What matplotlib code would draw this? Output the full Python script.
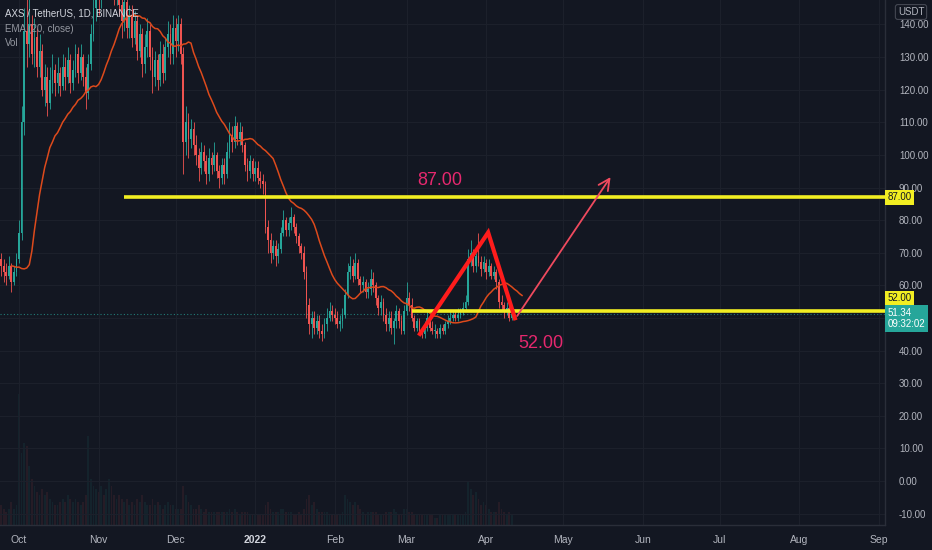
import matplotlib
matplotlib.use("Agg")
import matplotlib.pyplot as plt
import matplotlib.dates as mdates
import matplotlib.transforms as mtransforms
import pandas as pd

plt.rcParams["font.family"] = ["Liberation Sans", "DejaVu Sans"]

# daily candles AXS/USDT, 2021-09-24 .. 2022-04-11
first_date = "2021-09-24"
first_open = 68
closes = [
    66, 64, 63, 66, 61, 64, 68,  # Sep
    76, 110, 138, 134, 140, 131, 136, 127, 132, 120, 124, 116, 123, 126, 122, 125,
    121, 127, 124, 129, 122, 126, 131, 125, 130, 124, 119, 128, 137, 145, 150,  # Oct
    148, 155, 152, 158, 162, 156, 150, 153, 146, 141, 147, 139, 143, 136, 141, 132,
    137, 128, 133, 138, 130, 124, 129, 123, 131, 125, 133, 137, 131, 139,  # Nov
    135, 140, 131, 104, 110, 105, 108, 103, 100, 96, 101, 98, 94, 99, 97, 100,
    95, 93, 97, 94, 101, 106, 104, 109, 105, 107, 103, 97, 95, 98, 94,  # Dec
    96, 93, 92, 91, 78, 74, 70, 72, 69, 71, 76, 80, 77, 79, 81, 78,
    75, 72, 70, 64, 54, 48, 50, 47, 49, 46, 45, 48, 50, 52, 51,  # Jan
    50, 48, 49, 51, 57, 64, 66, 63, 67, 62, 60, 61, 58, 59, 62, 60,
    56, 53, 55, 51, 48, 50, 47, 49, 52, 49, 46, 52,  # Feb
    56, 54, 50, 47, 49, 46, 45, 47, 50, 47, 46, 46, 45, 47, 46, 48,
    49, 50, 51, 50, 51, 52, 53, 55, 68, 70, 66, 69, 67, 65, 67,  # Mar
    64, 66, 63, 64, 61, 55, 54, 52, 53, 50, 51.34,  # Apr
]
highs = [
    70, 68, 67, 69, 67, 66, 70,
    80, 115, 145, 152, 148, 143, 142, 139, 137, 134, 128, 127, 127, 131, 128, 130,
    127, 131, 130, 133, 131, 129, 134, 133, 134, 131, 127, 131, 140, 150, 155,
    156, 159, 160, 162, 166, 165, 160, 157, 155, 149, 150, 149, 146, 146, 144, 143,
    140, 139, 137, 142, 140, 133, 132, 131, 135, 134, 136, 141, 140, 143,
    142, 143, 142, 133, 115, 113, 111, 110, 106, 102, 104, 103, 100, 102, 101, 104,
    101, 97, 99, 99, 104, 110, 109, 112, 110, 110, 109, 104, 99, 100, 99,
    98, 98, 95, 94, 92, 80, 76, 74, 74, 73, 78, 83, 81, 81, 84, 82,
    79, 76, 73, 72, 66, 56, 52, 52, 51, 51, 48, 50, 53, 55, 54,
    53, 52, 51, 53, 59, 67, 69, 68, 70, 68, 63, 63, 62, 61, 65, 64,
    61, 57, 57, 56, 53, 52, 52, 50, 54, 53, 51, 54,
    61, 58, 56, 51, 50, 50, 47, 49, 52, 51, 49, 48, 47, 48, 48, 49,
    51, 52, 52, 52, 53, 53, 55, 57, 71, 74, 71, 70, 76, 69, 69,
    68, 68, 67, 66, 65, 62, 57, 55, 55, 54, 53,
]
lows = [
    63, 61, 60, 62, 58, 60, 63,
    67, 74, 106, 127, 130, 128, 127, 124, 124, 118, 115, 112, 114, 119, 118, 119,
    118, 120, 120, 122, 119, 120, 124, 122, 123, 121, 114, 117, 126, 135, 141,
    143, 145, 148, 149, 155, 152, 146, 146, 143, 136, 138, 136, 136, 133, 134, 129,
    130, 124, 125, 130, 126, 119, 121, 120, 121, 122, 123, 130, 128, 128,
    130, 132, 128, 94, 100, 99, 102, 100, 97, 92, 94, 95, 91, 92, 94, 95,
    93, 90, 91, 91, 93, 99, 101, 102, 103, 103, 101, 95, 92, 93, 92,
    92, 91, 90, 88, 76, 70, 67, 68, 66, 67, 70, 75, 75, 75, 77, 76,
    73, 70, 68, 62, 50, 45, 44, 45, 45, 44, 43, 44, 46, 49, 49,
    48, 47, 46, 47, 50, 56, 62, 61, 62, 60, 58, 58, 56, 56, 57, 58,
    54, 51, 51, 49, 46, 46, 45, 42, 47, 47, 45, 45,
    51, 52, 49, 46, 46, 45, 44, 44, 46, 46, 45, 44, 44, 44, 45, 45,
    47, 48, 49, 49, 49, 50, 51, 52, 54, 66, 64, 64, 66, 63, 64,
    62, 63, 62, 62, 59, 53, 52, 50, 51, 49, 49.5,
]
volumes = [
    6, 5, 4, 5, 7, 5, 6,
    40, 22, 25, 24, 18, 14, 12, 10, 9, 11, 9, 10, 8, 7, 6, 6,
    7, 8, 7, 9, 8, 7, 8, 7, 6, 7, 9, 27, 14, 12, 11,
    10, 12, 9, 11, 14, 12, 9, 8, 9, 8, 7, 8, 6, 7, 6, 8,
    7, 9, 7, 6, 6, 8, 6, 7, 6, 5, 6, 7, 6, 6,
    5, 5, 5, 12, 9, 7, 6, 5, 5, 6, 5, 4, 5, 4, 4, 4,
    4, 4, 4, 4, 4, 5, 4, 5, 4, 3, 4, 4, 4, 3, 3,
    3, 3, 3, 3, 6, 7, 5, 4, 4, 4, 5, 5, 4, 4, 4, 3,
    3, 4, 3, 5, 8, 9, 6, 7, 5, 4, 4, 4, 4, 3, 3,
    3, 3, 3, 4, 9, 8, 7, 6, 7, 6, 5, 4, 3, 4, 4, 4,
    4, 3, 3, 3, 4, 4, 4, 5, 4, 3, 3, 5,
    5, 4, 4, 3, 3, 3, 3, 3, 3, 3, 3, 2, 2, 3, 3, 3,
    3, 3, 3, 3, 3, 3, 3, 4, 13, 11, 9, 10, 8, 6, 7,
    6, 5, 4, 4, 4, 7, 5, 4, 3, 4, 3,
]

ema_length = 20
ema_offset = 4  # bars

# drawings on the chart
levels = [87, 52]
level_starts = ["2021-11-10 22:00", "2022-03-03 00:00"]
pattern_dates = ["2022-03-06 05:00", "2022-04-01 19:00", "2022-04-12 05:00"]
pattern_values = [45.1, 76.2, 49.9]
arrow_from = ("2022-04-12 12:00", 49.9)
arrow_to = ("2022-05-20 02:00", 93.9)
level_notes = [("2022-03-05 00:00", 92.0, "87.00"), ("2022-04-13 10:00", 42.3, "52.00")]

month_ticks = ["2021-10-01", "2021-11-01", "2021-12-01", "2022-01-01", "2022-02-01",
               "2022-03-01", "2022-04-01", "2022-05-01", "2022-06-01", "2022-07-01",
               "2022-08-01", "2022-09-01"]
month_labels = ["Oct", "Nov", "Dec", "2022", "Feb", "Mar", "Apr", "May", "Jun", "Jul", "Aug", "Sep"]
price_ticks = list(range(-10, 141, 10))
hidden_price_labels = [50]  # covered by the last-price tag

BG = "#131722"
UP = "#26a69a"
DOWN = "#ef5350"
TXT = "#b2b5be"
GRID = "#1c202b"

dates = pd.date_range(first_date, periods=len(closes), freq="D")
opens = [first_open] + closes[:-1]
x = mdates.date2num(dates)
colors = [UP if c >= o else DOWN for o, c in zip(opens, closes)]

fig = plt.figure(figsize=(9.32, 5.5), dpi=100, facecolor=BG)
pos = [0, 25 / 550, 885 / 932, 525 / 550]
vax = fig.add_axes(pos)
ax = fig.add_axes(pos, sharex=vax)
ax.patch.set_alpha(0)

# volume in the lower part of the pane
vax.bar(x, volumes, width=0.7, color=colors, alpha=0.09)
vax.set_ylim(0, max(volumes) * 4)
vax.axis("off")

# candles
ax.vlines(x, lows, highs, colors=colors, lw=0.6, zorder=3)
bottoms = [min(o, c) for o, c in zip(opens, closes)]
heights = [max(abs(c - o), 0.3) for o, c in zip(opens, closes)]
ax.bar(x, heights, bottom=bottoms, width=0.7, color=colors, zorder=3)

# EMA
ema = pd.Series(closes, index=dates).ewm(span=ema_length, adjust=False).mean()
ema_x = mdates.date2num(dates + pd.Timedelta(days=ema_offset))
ax.plot(ema_x, ema.values, color="#dd4a1c", lw=1.1, zorder=4)

x_left = mdates.date2num(pd.Timestamp("2021-09-23 14:00"))
x_right = mdates.date2num(pd.Timestamp("2022-09-03 10:00"))
ax.set_xlim(x_left, x_right)
ax.set_ylim(-13.5, 147.5)

# last price line
ax.axhline(closes[-1], color=UP, lw=0.8, ls=(0, (1, 2)), alpha=0.7, zorder=2)

# horizontal levels
for lvl, start in zip(levels, level_starts):
    ax.hlines(lvl, mdates.date2num(pd.Timestamp(start)), x_right, color="#f2ee22", lw=2.6, zorder=5)

# pattern + arrow
ax.plot(mdates.date2num(pd.to_datetime(pattern_dates)), pattern_values,
        color="#ff1c1c", lw=3, solid_joinstyle="miter", zorder=6)
ax.annotate("", xy=(mdates.date2num(pd.Timestamp(arrow_to[0])), arrow_to[1]),
            xytext=(mdates.date2num(pd.Timestamp(arrow_from[0])), arrow_from[1]),
            arrowprops=dict(arrowstyle="->", color="#ef4a5e", lw=1.3, mutation_scale=20),
            zorder=6)
for d, v, s in level_notes:
    ax.text(mdates.date2num(pd.Timestamp(d)), v, s, color="#e6286e", fontsize=13,
            ha="left", va="center", zorder=6)

# grid and axes
ax.set_yticks(price_ticks)
ax.set_yticklabels(["" if v in hidden_price_labels else f"{v:.2f}" for v in price_ticks])
ax.set_xticks(mdates.date2num(pd.to_datetime(month_ticks)))
ax.set_xticklabels(month_labels)
ax.grid(True, color=GRID, lw=0.8, zorder=0)
ax.set_axisbelow(True)
ax.yaxis.tick_right()
ax.tick_params(axis="y", length=0, pad=10, labelcolor=TXT, labelsize=7)
ax.tick_params(axis="x", length=0, pad=7, labelcolor=TXT, labelsize=7.5)
for lab in ax.get_xticklabels():
    if lab.get_text() == "2022":
        lab.set_fontweight("bold")
        lab.set_color("#d1d4dc")
for side in ["top", "left"]:
    ax.spines[side].set_visible(False)
for side in ["right", "bottom"]:
    ax.spines[side].set_color("#2a2e39")
    ax.spines[side].set_linewidth(1)

# price scale labels
tr = mtransforms.blended_transform_factory(ax.transAxes, ax.transData)
ax.text(1.003, 87, "87.00", transform=tr, ha="left", va="center", fontsize=7, color="#131722",
        bbox=dict(boxstyle="square,pad=0.25", fc="#f2ee22", ec="none"), clip_on=False, zorder=10)
ax.text(1.003, 56.1, "52.00", transform=tr, ha="left", va="center", fontsize=7, color="#131722",
        bbox=dict(boxstyle="square,pad=0.25", fc="#f2ee22", ec="none"), clip_on=False, zorder=10)
ax.text(1.003, 49.8, f"{closes[-1]:.2f}\n09:32:02", transform=tr, ha="left", va="center",
        fontsize=7, color="white", linespacing=1.15,
        bbox=dict(boxstyle="square,pad=0.3", fc=UP, ec="none"), clip_on=False, zorder=10)
fig.text(911 / 932, 1 - 12 / 550, "USDT", ha="center", va="center", fontsize=7, color=TXT,
         bbox=dict(boxstyle="round,pad=0.25", fc=BG, ec="#434651", lw=0.8))

# legend
fig.text(5 / 932, 1 - 14 / 550, "AXS / TetherUS, 1D, BINANCE", color="#d1d4dc", fontsize=7, va="center")
fig.text(5 / 932, 1 - 29 / 550, "EMA (20, close)", color="#9598a1", fontsize=7, va="center")
fig.text(5 / 932, 1 - 43 / 550, "Vol", color="#9598a1", fontsize=7, va="center")

fig.savefig("out.png", dpi=100, facecolor=BG)
